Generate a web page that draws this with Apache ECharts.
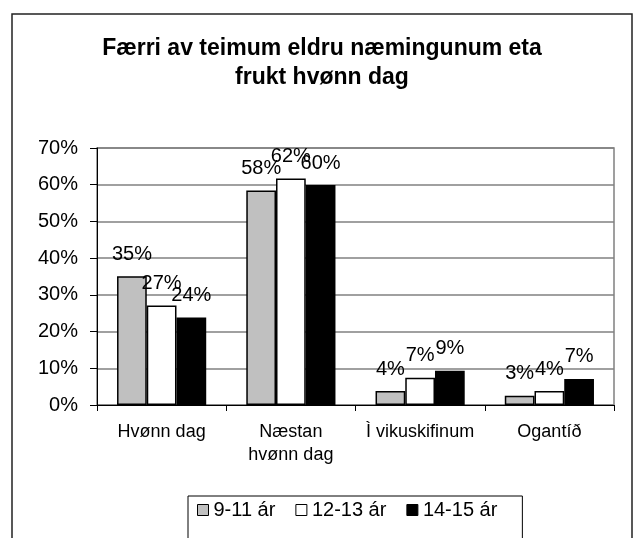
<!DOCTYPE html>
<html>
<head>
    <meta charset="utf-8">
    <title>Frukt</title>
    <script src="https://cdn.jsdelivr.net/npm/echarts@6/dist/echarts.min.js"></script>
</head>
<body style="margin:0;">
    <div id="main" style="width: 634px;height:538px;"></div>
    <script type="text/javascript">
        // data
        var categories = ['Hvønn dag', 'Næstan\nhvønn dag', 'Ì vikuskifinum', 'Ogantíð'];
        var seriesNames = ['9-11 ár', '12-13 ár', '14-15 ár'];
        var age9to11 = [35.1, 58.4, 3.8, 2.5];
        var age12to13 = [27.1, 61.7, 7.4, 3.8];
        var age14to15 = [23.8, 59.9, 9.3, 7.1];
        var barColors = ['#c0c0c0', '#ffffff', '#000000'];

        var myChart = echarts.init(document.getElementById('main'));
        var font = 'Liberation Sans, Arial, sans-serif';

        function makeSeries(name, values, color) {
            return {
                name: name,
                type: 'bar',
                data: values,
                barGap: '0%',
                barCategoryGap: '31%',
                itemStyle: {
                    color: color,
                    borderColor: '#000',
                    borderWidth: 1.5
                },
                label: {
                    show: true,
                    position: 'top',
                    distance: 12,
                    fontFamily: font,
                    fontSize: 20,
                    color: '#000',
                    formatter: function (p) { return Math.round(p.value) + '%'; }
                }
            };
        }

        var option = {
            animation: false,
            backgroundColor: '#fff',
            title: {
                text: 'Færri av teimum eldru næmingunum eta\nfrukt hvønn dag',
                left: 317,
                top: 29,
                textAlign: 'center',
                textStyle: {
                    fontFamily: font,
                    fontSize: 23,
                    fontWeight: 'bold',
                    color: '#000',
                    lineHeight: 29
                }
            },
            graphic: [{
                type: 'rect',
                shape: { x: 12, y: 14, width: 620, height: 600 },
                style: { fill: null, stroke: '#222', lineWidth: 1.5 },
                z: -1
            }],
            legend: {
                data: seriesNames,
                left: 188,
                top: 496,
                orient: 'horizontal',
                icon: 'rect',
                itemWidth: 11,
                itemHeight: 11,
                itemGap: 20,
                padding: [4, 25, 40, 9],
                borderColor: '#000',
                borderWidth: 1,
                itemStyle: { borderColor: '#000', borderWidth: 1 },
                textStyle: { fontFamily: font, fontSize: 20, color: '#000' }
            },
            grid: {
                left: 97,
                top: 148,
                right: 20,
                bottom: 133,
                show: true,
                borderColor: '#808080',
                borderWidth: 1.5
            },
            xAxis: {
                type: 'category',
                data: categories,
                axisLine: { lineStyle: { color: '#000', width: 1 } },
                axisTick: { show: true, length: 6, lineStyle: { color: '#000' } },
                axisLabel: {
                    interval: 0,
                    margin: 16,
                    fontFamily: font,
                    fontSize: 18,
                    lineHeight: 23,
                    color: '#000'
                }
            },
            yAxis: {
                type: 'value',
                min: 0,
                max: 70,
                interval: 10,
                axisLine: { show: true, lineStyle: { color: '#000', width: 1 } },
                axisTick: { show: true, length: 7, lineStyle: { color: '#000' } },
                axisLabel: {
                    formatter: '{value}%',
                    margin: 19,
                    fontFamily: font,
                    fontSize: 20,
                    color: '#000'
                },
                splitLine: { lineStyle: { color: '#808080', width: 1.5 } }
            },
            series: [
                makeSeries(seriesNames[0], age9to11, barColors[0]),
                makeSeries(seriesNames[1], age12to13, barColors[1]),
                makeSeries(seriesNames[2], age14to15, barColors[2])
            ]
        };
        myChart.setOption(option);
    </script>
</body>
</html>
